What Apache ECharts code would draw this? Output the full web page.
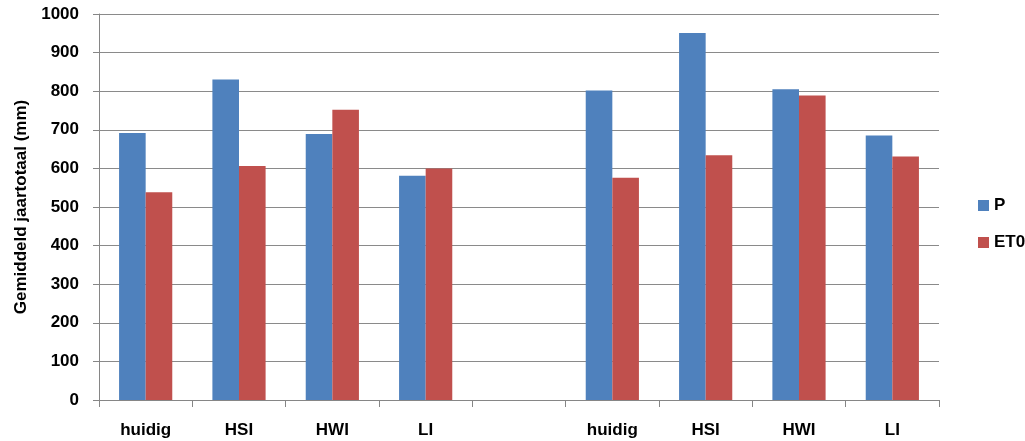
<!DOCTYPE html>
<html>
<head>
<meta charset="utf-8">
<script src="https://cdn.jsdelivr.net/npm/echarts@6/dist/echarts.min.js"></script>
<style>html,body{margin:0;padding:0;background:#fff}#c{width:1025px;height:441px}</style>
</head>
<body>
<div id="c"></div>
<script>
var categories = ['huidig', 'HSI', 'HWI', 'LI', '', 'huidig', 'HSI', 'HWI', 'LI'];
var seriesP = [692, 830, 689, 581, null, 802, 951, 805, 685];
var seriesET0 = [538, 606, 752, 600, null, 576, 634, 789, 631];
var yTicks = { min: 0, max: 1000, interval: 100 };
var yName = 'Gemiddeld jaartotaal (mm)';

var font = '"Liberation Sans", Arial, sans-serif';
var chart = echarts.init(document.getElementById('c'), null, { renderer: 'canvas' });
chart.setOption({
  animation: false,
  backgroundColor: '#fff',
  textStyle: { fontFamily: font },
  grid: { left: 99, right: 86, top: 14, bottom: 41, containLabel: false },
  legend: {
    orient: 'vertical',
    left: 973,
    top: 192,
    itemWidth: 11,
    itemHeight: 11,
    itemGap: 20,
    icon: 'rect',
    textStyle: { fontFamily: font, fontWeight: 'bold', fontSize: 17, color: '#000' },
    data: ['P', 'ET0']
  },
  xAxis: {
    type: 'category',
    data: categories,
    axisLine: { lineStyle: { color: '#868686', width: 1 } },
    axisTick: { show: true, alignWithLabel: false, length: 7, lineStyle: { color: '#868686' } },
    axisLabel: { fontFamily: font, fontWeight: 'bold', fontSize: 17, color: '#000', margin: 22 },
    splitLine: { show: false }
  },
  yAxis: {
    type: 'value',
    min: yTicks.min,
    max: yTicks.max,
    interval: yTicks.interval,
    name: yName,
    nameLocation: 'middle',
    nameGap: 69,
    nameRotate: 90,
    nameTextStyle: { fontFamily: font, fontWeight: 'bold', fontSize: 17, color: '#000' },
    axisLine: { show: true, lineStyle: { color: '#868686', width: 1 } },
    axisTick: { show: true, length: 6, lineStyle: { color: '#868686' } },
    axisLabel: { fontFamily: font, fontWeight: 'bold', fontSize: 17, color: '#000', margin: 20,
      formatter: function (v) { return String(v); } },
    splitLine: { show: true, lineStyle: { color: '#8a8a8a', width: 1 } }
  },
  series: [
    { name: 'P', type: 'bar', data: seriesP, barGap: '0%', barCategoryGap: '43%',
      itemStyle: { color: '#4F81BD' } },
    { name: 'ET0', type: 'bar', data: seriesET0, barGap: '0%', barCategoryGap: '43%',
      itemStyle: { color: '#C0504D' } }
  ]
});
</script>
</body>
</html>
